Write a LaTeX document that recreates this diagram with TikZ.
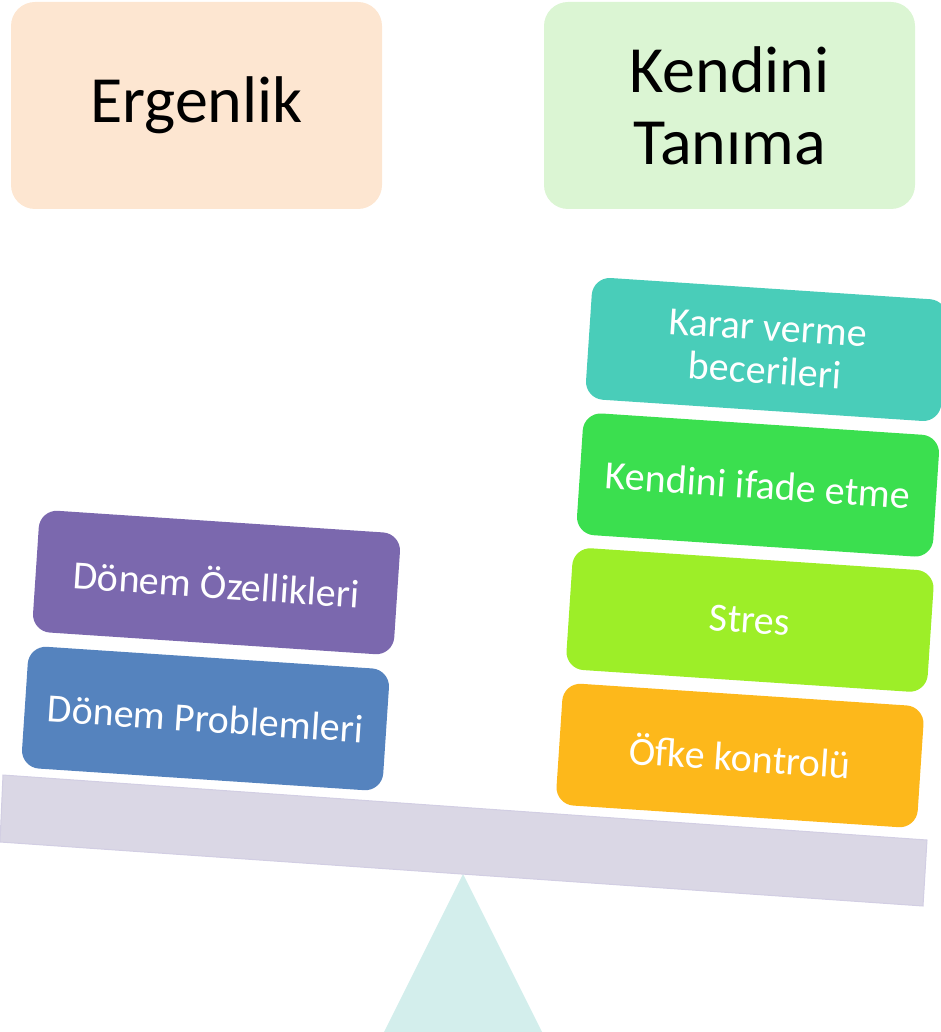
\documentclass[tikz,border=0pt]{standalone}
\usepackage{fontspec}
\setmainfont{Carlito}
\usetikzlibrary{positioning}
\definecolor{peach}{HTML}{FDE6D1}
\definecolor{palegreen}{HTML}{DBF5D3}
\definecolor{lavender}{HTML}{7B68AE}
\definecolor{steel}{HTML}{5583BE}
\definecolor{teal}{HTML}{49CDB9}
\definecolor{grass}{HTML}{3BDF4F}
\definecolor{lime}{HTML}{9DEE28}
\definecolor{amber}{HTML}{FDB81B}
\definecolor{beamfill}{HTML}{DAD7E5}
\definecolor{beamline}{HTML}{D2CEE3}
\definecolor{pivotfill}{HTML}{D3EEEC}
\tikzset{
  % Title box
  tbox/.style={shape=rectangle, rounded corners=24pt, minimum width=371pt,
    minimum height=207pt, inner sep=0pt, align=center,
    font=\fontsize{66}{72}\selectfont},
  % Weight box on the beam
  wbox/.style={shape=rectangle, rounded corners=18pt, minimum width=#1,
    minimum height=122pt, inner sep=0pt, align=center, text=white,
    rotate=-3.8, font=\fontsize{40}{43}\selectfont},
  wbox/.default=362pt,
  % Beam and pivot
  beam/.style={fill=beamfill, draw=beamline, line width=1pt},
  pivot/.style={fill=pivotfill},
}
\begin{document}
\begin{tikzpicture}[x=1pt, y=-1pt]
    \useasboundingbox (0,0) rectangle (941,1032);
    \clip (0,0) rectangle (941,1032);

    % pivot and beam
    \fill[pivot] (463,874) -- (384,1032) -- (542,1032) -- cycle;
    \draw[beam] (3,775) -- (927,840) -- (923,906) -- (0,842) -- cycle;

    \node[tbox, fill=peach] (erg) at (196.5,105.5) {Ergenlik};
    \node[tbox, fill=palegreen] (kt) at (729.5,105.5) {Kendini\\Tanıma};

    % left side
    \node[wbox, fill=lavender] (doz) at (216.5,582.5) {Dönem Özellikleri};
    \node[wbox, fill=steel] (dpr) at (205.5,718.5) {Dönem Problemleri};

    % right side
    \node[wbox=356pt, fill=teal] (kvb) at (766.5,349.5) {Karar verme\\becerileri};
    \node[wbox=357pt, fill=grass] (kie) at (758,485) {Kendini ifade etme};
    \node[wbox, fill=lime] (str) at (750,620) {Stres};
    \node[wbox, fill=amber] (ofk) at (740,755.5) {Öfke kontrolü};
\end{tikzpicture}
\end{document}
